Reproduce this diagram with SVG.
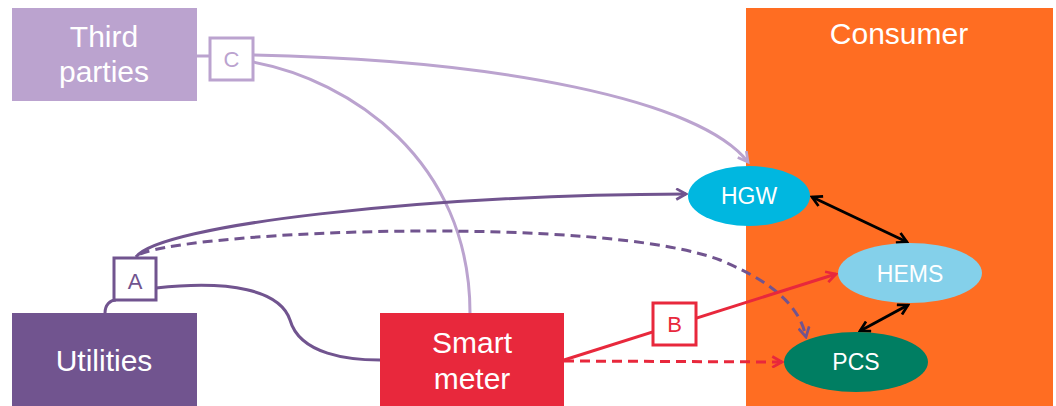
<svg xmlns="http://www.w3.org/2000/svg" width="1056" height="406" viewBox="0 0 1056 406">
<style>
.box-t{font-family:"Liberation Sans",Arial,sans-serif;font-size:30px;fill:#fff;text-anchor:middle}
.ell-t{font-family:"Liberation Sans",Arial,sans-serif;font-size:23px;fill:#fff;text-anchor:middle}
.lbl-t{font-family:"Liberation Sans",Arial,sans-serif;font-size:22px;text-anchor:middle}
.c{fill:none;stroke-width:3}
.lav{stroke:#BBA3CF}
.pur{stroke:#71548F}
.red{stroke:#E8283C}
.blk{stroke:#000}
.dash{stroke-dasharray:10 6}
</style>
<defs>
<marker id="m-lav" viewBox="0 0 12 12" refX="10" refY="6" markerWidth="13" markerHeight="13" markerUnits="userSpaceOnUse" orient="auto"><path d="M1,1 L10,6 L1,11" fill="none" stroke="#BBA3CF" stroke-width="2.5"/></marker>
<marker id="m-pur" viewBox="0 0 12 12" refX="10" refY="6" markerWidth="13" markerHeight="13" markerUnits="userSpaceOnUse" orient="auto"><path d="M1,1 L10,6 L1,11" fill="none" stroke="#71548F" stroke-width="2.5"/></marker>
<marker id="m-red" viewBox="0 0 12 12" refX="10" refY="6" markerWidth="13" markerHeight="13" markerUnits="userSpaceOnUse" orient="auto"><path d="M1,1 L10,6 L1,11" fill="none" stroke="#E8283C" stroke-width="2.5"/></marker>
<marker id="m-blk" viewBox="0 0 12 12" refX="10" refY="6" markerWidth="13" markerHeight="13" markerUnits="userSpaceOnUse" orient="auto-start-reverse"><path d="M1,1 L10,6 L1,11" fill="none" stroke="#000" stroke-width="2.5"/></marker>
</defs>
<g id="consumer">
<rect x="746" y="8" width="307" height="398" fill="#FF6D22"/>
<text class="box-t" x="899" y="44">Consumer</text>
</g>
<g id="connectors">
<path class="c lav" d="M197,56 L210,56"/>
<path class="c lav" d="M253,55 C500,60 700,100 748,162" marker-end="url(#m-lav)"/>
<path class="c lav" d="M253,62 C350,80 470,160 470,313"/>
<path class="c pur" d="M105,313 C105,305 110,300 116,300"/>
<path class="c pur" d="M136,257 C160,225 420,195 686,194" marker-end="url(#m-pur)"/>
<path class="c pur dash" d="M140,254 C200,230 600,215 720,260 C780,285 800,310 806,337" marker-end="url(#m-pur)"/>
<path class="c pur" d="M156,288 C230,280 280,290 290,320 C300,355 350,360 380,360"/>
<path class="c red" d="M564,360 L836,274" marker-end="url(#m-red)"/>
<path class="c red dash" d="M564,361 L782,362" marker-end="url(#m-red)"/>
<path class="c blk" d="M812,197 L907,242" marker-start="url(#m-blk)" marker-end="url(#m-blk)"/>
<path class="c blk" d="M908,305 L860,331" marker-start="url(#m-blk)" marker-end="url(#m-blk)"/>
</g>
<g id="third-parties">
<rect x="12" y="8" width="185" height="93" fill="#BBA3CF"/>
<text class="box-t" x="104" y="47">Third</text>
<text class="box-t" x="104" y="82">parties</text>
</g>
<g id="utilities">
<rect x="12" y="313" width="185" height="93" fill="#71548F"/>
<text class="box-t" x="104" y="371">Utilities</text>
</g>
<g id="smart-meter">
<rect x="380" y="313" width="184" height="93" fill="#E8283C"/>
<text class="box-t" x="472" y="353">Smart</text>
<text class="box-t" x="472" y="389">meter</text>
</g>
<g id="label-c">
<rect x="210" y="38" width="43" height="42" fill="#fff" stroke="#BBA3CF" stroke-width="3"/>
<text class="lbl-t" x="231.5" y="67" fill="#BBA3CF">C</text>
</g>
<g id="label-a">
<rect x="114" y="258" width="42" height="42" fill="#fff" stroke="#71548F" stroke-width="3"/>
<text class="lbl-t" x="135" y="289" fill="#71548F">A</text>
</g>
<g id="label-b">
<rect x="653" y="303" width="43" height="42" fill="#fff" stroke="#E8283C" stroke-width="3"/>
<text class="lbl-t" x="674.5" y="332" fill="#E8283C">B</text>
</g>
<g id="hgw">
<ellipse cx="749" cy="196" rx="61" ry="30" fill="#00B7E0"/>
<text class="ell-t" x="749" y="204">HGW</text>
</g>
<g id="hems">
<ellipse cx="910" cy="273" rx="72" ry="30" fill="#84D0EA"/>
<text class="ell-t" x="910" y="282">HEMS</text>
</g>
<g id="pcs">
<ellipse cx="856" cy="362" rx="72" ry="30" fill="#007E62"/>
<text class="ell-t" x="856" y="370">PCS</text>
</g>
</svg>
